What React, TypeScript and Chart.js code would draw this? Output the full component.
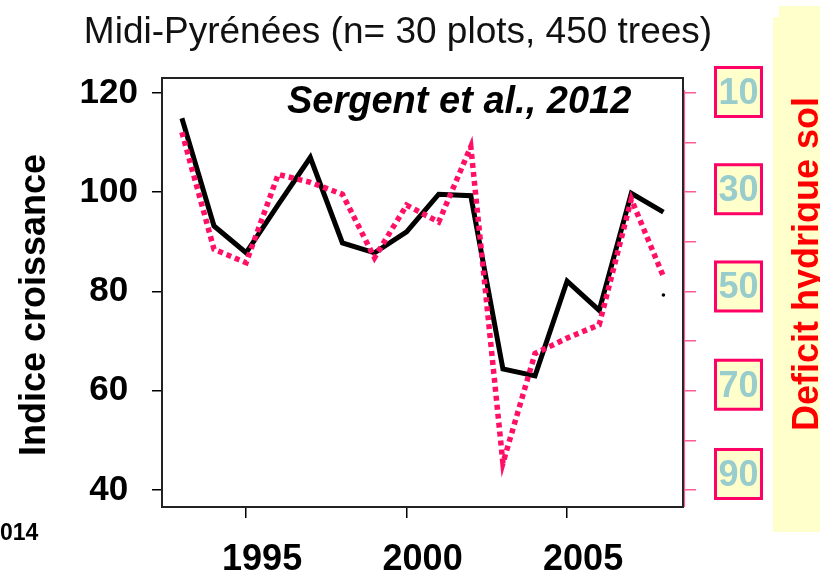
import { useEffect, useRef } from "react";
import { Chart, registerables } from "chart.js";

Chart.register(...registerables);

// ---- data ----
const years = [1993, 1994, 1995, 1996, 1997, 1998, 1999, 2000, 2001, 2002, 2003, 2004, 2005, 2006, 2007, 2008];
const growthIndex = [114.9, 93.2, 87.8, 97.5, 107.0, 89.8, 87.8, 92.0, 99.6, 99.3, 64.4, 63.0, 82.1, 76.2, 99.8, 96.0];
const soilDeficit = [17.9, 41.5, 44.2, 26.4, 28.0, 30.4, 43.2, 32.6, 36.0, 20.8, 84.6, 62.5, 59.4, 56.7, 31.4, 47.0];
const strayMark = [null, null, null, null, null, null, null, null, null, null, null, null, null, null, null, 79.3];

const xTicks = [1995, 2000, 2005];
const leftTicks = [40, 60, 80, 100, 120];
const rightTicks = [10, 20, 30, 40, 50, 60, 70, 80, 90];
const rightLabels = [10, 30, 50, 70, 90];

const titleText = "Midi-Pyrénées (n= 30 plots, 450 trees)";
const citationText = "Sergent et al., 2012";
const leftTitle = "Indice croissance";
const rightTitle = "Deficit hydrique sol";
const cornerText = "014";

const FONT = '"Liberation Sans", Arial, Helvetica, sans-serif';
const PINK = "#FF0F66";

// label vertical nudges for the boxed right-axis labels (layout only)
const rightLabelShift = [-1, -3, -5, -6, -16];

const decor = {
  id: "decor",
  beforeDraw(chart: any) {
    const ctx = chart.ctx;
    ctx.save();
    ctx.fillStyle = "#ffffff";
    ctx.fillRect(0, 0, chart.width, chart.height);
    ctx.fillStyle = "#FFFFCC";
    ctx.fillRect(779, 6, 41, 526);
    ctx.fillRect(773, 17, 8, 515);
    ctx.restore();
  },
  beforeDatasetsDraw(chart: any) {
    const { ctx, chartArea: a } = chart;
    ctx.save();
    ctx.strokeStyle = "#222";
    ctx.lineWidth = 2;
    ctx.strokeRect(a.left, a.top, a.right - a.left, a.bottom - a.top);
    ctx.strokeStyle = "#FF5C95";
    ctx.lineWidth = 1.2;
    ctx.beginPath();
    ctx.moveTo(a.right + 1.5, a.top + 12);
    ctx.lineTo(a.right + 1.5, a.bottom);
    ctx.stroke();
    ctx.restore();
  },
  afterDraw(chart: any) {
    const { ctx } = chart;
    const s = chart.scales.y2;
    ctx.save();
    // boxed right labels
    rightLabels.forEach((v, i) => {
      const cy = s.getPixelForValue(v) + rightLabelShift[i];
      const cx = s.left + 55.5;
      ctx.fillStyle = "#FFFFCC";
      ctx.fillRect(cx - 23, cy - 24.5, 46, 49);
      ctx.strokeStyle = "#FF0066";
      ctx.lineWidth = 3;
      ctx.strokeRect(cx - 23, cy - 24.5, 46, 49);
      ctx.fillStyle = "#99CCCC";
      ctx.font = `bold 36px ${FONT}`;
      ctx.textAlign = "center";
      ctx.textBaseline = "middle";
      ctx.fillText(String(v), cx, cy + 2);
    });

    // main title
    ctx.fillStyle = "#111";
    ctx.font = `37px ${FONT}`;
    ctx.textAlign = "center";
    ctx.textBaseline = "alphabetic";
    ctx.fillText(titleText, 398, 43);

    // citation
    ctx.fillStyle = "#000";
    ctx.font = `italic bold 38px ${FONT}`;
    ctx.textAlign = "left";
    ctx.fillText(citationText, 287, 113);

    // left axis title
    ctx.save();
    ctx.translate(35, 305);
    ctx.rotate(-Math.PI / 2);
    ctx.font = `bold 36px ${FONT}`;
    ctx.textAlign = "center";
    ctx.textBaseline = "middle";
    ctx.fillStyle = "#000";
    ctx.fillText(leftTitle, 0, 0);
    ctx.restore();

    // right axis title
    ctx.save();
    ctx.translate(818, 264);
    ctx.rotate(-Math.PI / 2);
    ctx.font = `bold 36px ${FONT}`;
    ctx.textAlign = "center";
    ctx.textBaseline = "alphabetic";
    ctx.fillStyle = "#FF0000";
    ctx.fillText(rightTitle, 0, 0);
    ctx.restore();

    // corner fragment
    ctx.font = `bold 23px ${FONT}`;
    ctx.textAlign = "left";
    ctx.textBaseline = "alphabetic";
    ctx.fillStyle = "#000";
    ctx.fillText(cornerText, 0, 540);
    ctx.restore();
  },
};

export default function App() {
  const ref = useRef<HTMLCanvasElement>(null);
  useEffect(() => {
    const canvas = ref.current!;
    const chart = new Chart(canvas, {
      type: "line",
      data: {
        datasets: [
          {
            label: "Deficit hydrique sol",
            data: years.map((y, i) => ({ x: y, y: soilDeficit[i] })),
            yAxisID: "y2",
            borderColor: PINK,
            borderWidth: 5.5,
            borderDash: [5, 4],
            borderCapStyle: "butt",
            pointRadius: 0,
            tension: 0,
            fill: false,
          },
          {
            label: "Indice croissance",
            data: years.map((y, i) => ({ x: y, y: growthIndex[i] })),
            yAxisID: "y",
            borderColor: "#000",
            borderWidth: 5,
            borderJoinStyle: "miter",
            pointRadius: 0,
            tension: 0,
            fill: false,
          },
          {
            label: "mark",
            data: years.map((y, i) => ({ x: y, y: strayMark[i] as any })),
            yAxisID: "y",
            showLine: false,
            pointRadius: 1.8,
            pointBackgroundColor: "#000",
            pointBorderWidth: 0,
          },
        ],
      },
      options: {
        responsive: false,
        animation: false,
        events: [],
        layout: { padding: { top: 78, left: 0, right: 0, bottom: 0 } },
        plugins: { legend: { display: false }, tooltip: { enabled: false }, title: { display: false } },
        scales: {
          x: {
            type: "linear",
            min: 1992.38,
            max: 2008.61,
            afterBuildTicks: (s: any) => {
              s.ticks = xTicks.map((v) => ({ value: v }));
            },
            afterFit: (s: any) => {
              s.height = 63;
            },
            border: { display: false },
            grid: { drawOnChartArea: false, drawTicks: true, tickLength: 11, color: "#000", lineWidth: 1.5 },
            ticks: {
              autoSkip: false,
              maxRotation: 0,
              labelOffset: 16,
              padding: 20,
              color: "#000",
              font: { family: FONT, size: 36, weight: "bold" },
              callback: (v: any) => String(v),
            },
          },
          y: {
            type: "linear",
            position: "left",
            min: 36.57,
            max: 123.02,
            afterBuildTicks: (s: any) => {
              s.ticks = leftTicks.map((v) => ({ value: v }));
            },
            afterFit: (s: any) => {
              s.width = 162;
            },
            border: { display: false },
            grid: { drawOnChartArea: false, drawTicks: true, tickLength: 10, color: "#000", lineWidth: 1.5 },
            ticks: {
              padding: 14,
              crossAlign: "center",
              color: "#000",
              font: { family: FONT, size: 35, weight: "bold" },
              callback: (v: any) => String(v),
            },
          },
          y2: {
            type: "linear",
            position: "right",
            reverse: true,
            min: 6.98,
            max: 93.43,
            afterBuildTicks: (s: any) => {
              s.ticks = rightTicks.map((v) => ({ value: v }));
            },
            afterFit: (s: any) => {
              s.width = 137;
            },
            border: { display: false },
            grid: { drawOnChartArea: false, drawTicks: true, tickLength: 13, color: "#FF5C95", lineWidth: 1.5 },
            ticks: { display: false },
          },
        },
      },
      plugins: [decor],
    } as any);
    return () => chart.destroy();
  }, []);
  return (
    <div style={{ position: "fixed", left: 0, top: 0, width: 820, height: 570, background: "#fff" }}>
      <canvas ref={ref} width={820} height={570} style={{ display: "block", width: 820, height: 570 }} />
    </div>
  );
}
